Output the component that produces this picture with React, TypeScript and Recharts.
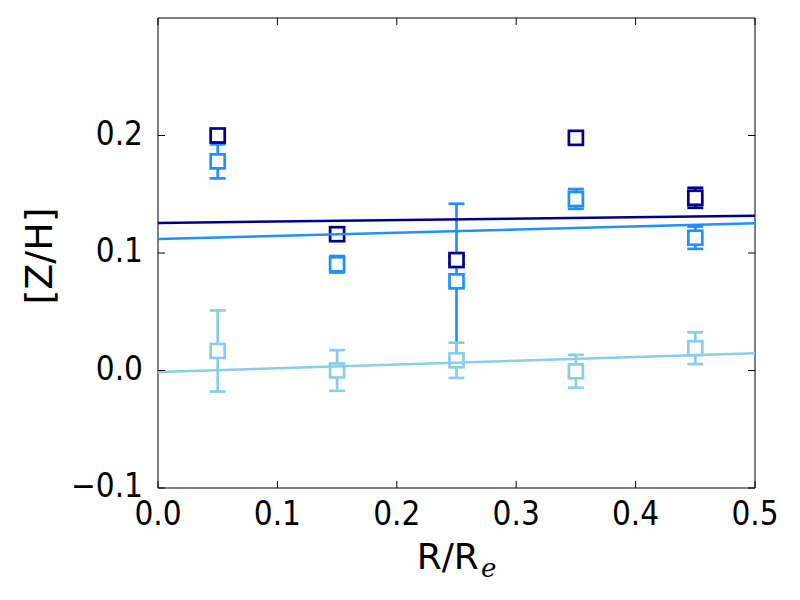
import React from 'react'
import { ErrorBar, Scatter, ScatterChart, XAxis, YAxis } from 'recharts'

// radial bins (R/Re)
const radius = [0.05, 0.15, 0.25, 0.35, 0.45]

// [Z/H] per bin, three populations
const navyZH = [0.2, 0.116, 0.094, 0.198, 0.147]
const navyErr = [0.003, 0.003, 0.003, 0.003, 0.0085]
const blueZH = [0.178, 0.0904, 0.0759, 0.146, 0.113]
const blueErr = [0.0145, 0.007, 0.066, 0.0084, 0.0095]
const skyZH = [0.0166, 0.0, 0.0087, -0.0007, 0.019]
const skyErr = [0.0345, 0.0173, 0.015, 0.014, 0.0135]

// linear fits, evaluated at the ends of the x range
const fitX = [0, 0.5]
const navyFit = [0.1255, 0.1317]
const blueFit = [0.1119, 0.1253]
const skyFit = [-0.0013, 0.0146]

const xTicks = [0, 0.1, 0.2, 0.3, 0.4, 0.5]
const yTicks = [-0.1, 0, 0.1, 0.2]

const NAVY = '#00008B'
const BLUE = '#1E90FF'
const SKY = '#87CEEB'
const FONT = '"DejaVu Sans", sans-serif'
const TICK_FONT = '"DejaVu Sans Condensed", "DejaVu Sans", sans-serif'
const TICK = 7

const points = (ys: number[], errs: number[]) =>
  radius.map((x, i) => ({ x, y: ys[i], err: errs[i] }))
const fitLine = (ys: number[]) => fitX.map((x, i) => ({ x, y: ys[i] }))

const fmt = (v: number) => (v < 0 ? `\u2212${Math.abs(v).toFixed(1)}` : v.toFixed(1))

const square = (color: string) => (p: any) => (
  <rect
    x={p.cx - 7}
    y={p.cy - 7}
    width={14}
    height={14}
    fill="#fff"
    stroke={color}
    strokeWidth={2.7}
  />
)

const noShape = () => <g />

function BottomTick({ x, y, payload }: any) {
  return (
    <g>
      <line x1={x} y1={y} x2={x} y2={y - TICK} stroke="#000" />
      <text x={x} y={y + 37} textAnchor="middle" fontSize={33} fontFamily={TICK_FONT} fill="#000">
        {fmt(payload.value)}
      </text>
    </g>
  )
}

function TopTick({ x, y }: any) {
  return <line x1={x} y1={y} x2={x} y2={y + TICK} stroke="#000" />
}

function LeftTick({ x, y, payload }: any) {
  return (
    <g>
      <line x1={x} y1={y} x2={x + TICK} y2={y} stroke="#000" />
      <text
        x={x - 15}
        y={y + 9}
        textAnchor="end"
        fontSize={33}
        fontFamily={TICK_FONT}
        fill="#000"
      >
        {fmt(payload.value)}
      </text>
    </g>
  )
}

function RightTick({ x, y }: any) {
  return <line x1={x} y1={y} x2={x - TICK} y2={y} stroke="#000" />
}

export default function App() {
  return (
    <div style={{ position: 'absolute', left: 0, top: 0, width: 800, height: 600, background: '#fff' }}>
      <ScatterChart width={800} height={600} margin={{ top: 0, right: 0, bottom: 0, left: 0 }}>
        <XAxis
          xAxisId="b"
          dataKey="x"
          type="number"
          domain={[0, 0.5]}
          ticks={xTicks}
          allowDataOverflow
          height={112}
          tickSize={0}
          tickMargin={0}
          tickLine={false}
          axisLine={{ stroke: '#000' }}
          tick={<BottomTick />}
          label={{
            content: ({ viewBox }: any) => (
              <text
                x={viewBox.x + viewBox.width / 2}
                y={viewBox.y + 81}
                textAnchor="middle"
                fontSize={36}
                fontFamily={FONT}
                fill="#000"
              >
                R/R
                <tspan fontSize={26} fontStyle="italic" fontFamily="'DejaVu Serif', serif" dx={2} dy={8}>
                  e
                </tspan>
              </text>
            ),
          }}
        />
        <XAxis
          xAxisId="t"
          orientation="top"
          dataKey="x"
          type="number"
          domain={[0, 0.5]}
          ticks={xTicks}
          allowDataOverflow
          height={18}
          tickSize={0}
          tickMargin={0}
          tickLine={false}
          axisLine={{ stroke: '#000' }}
          tick={<TopTick />}
        />
        <YAxis
          yAxisId="l"
          dataKey="y"
          type="number"
          domain={[-0.1, 0.3]}
          ticks={yTicks}
          allowDataOverflow
          width={158}
          tickSize={0}
          tickMargin={0}
          tickLine={false}
          axisLine={{ stroke: '#000' }}
          tick={<LeftTick />}
          label={{
            content: ({ viewBox }: any) => {
              const cx = 52
              const cy = viewBox.y + viewBox.height / 2 + 3
              return (
                <text
                  x={cx}
                  y={cy}
                  transform={`rotate(-90, ${cx}, ${cy})`}
                  textAnchor="middle"
                  fontSize={38}
                  fontFamily={FONT}
                  fill="#000"
                >
                  [Z/H]
                </text>
              )
            },
          }}
        />
        <YAxis
          yAxisId="r"
          orientation="right"
          dataKey="y"
          type="number"
          domain={[-0.1, 0.3]}
          ticks={yTicks}
          allowDataOverflow
          width={45}
          tickSize={0}
          tickMargin={0}
          tickLine={false}
          axisLine={{ stroke: '#000' }}
          tick={<RightTick />}
        />

        <Scatter
          xAxisId="b"
          yAxisId="l"
          data={points(blueZH, blueErr)}
          shape={square(BLUE)}
          isAnimationActive={false}
        >
          <ErrorBar dataKey="err" direction="y" width={8} stroke={BLUE} strokeWidth={2.7} />
        </Scatter>
        <Scatter
          xAxisId="b"
          yAxisId="l"
          data={points(skyZH, skyErr)}
          shape={square(SKY)}
          isAnimationActive={false}
        >
          <ErrorBar dataKey="err" direction="y" width={8} stroke={SKY} strokeWidth={2.7} />
        </Scatter>
        <Scatter
          xAxisId="b"
          yAxisId="l"
          data={points(navyZH, navyErr)}
          shape={square(NAVY)}
          isAnimationActive={false}
        >
          <ErrorBar dataKey="err" direction="y" width={8} stroke={NAVY} strokeWidth={2.7} />
        </Scatter>

        <Scatter
          xAxisId="b"
          yAxisId="l"
          data={fitLine(navyFit)}
          line={{ stroke: NAVY, strokeWidth: 2.5 }}
          shape={noShape}
          isAnimationActive={false}
        />
        <Scatter
          xAxisId="b"
          yAxisId="l"
          data={fitLine(blueFit)}
          line={{ stroke: BLUE, strokeWidth: 2.5 }}
          shape={noShape}
          isAnimationActive={false}
        />
        <Scatter
          xAxisId="b"
          yAxisId="l"
          data={fitLine(skyFit)}
          line={{ stroke: SKY, strokeWidth: 2.5 }}
          shape={noShape}
          isAnimationActive={false}
        />
      </ScatterChart>
    </div>
  )
}
